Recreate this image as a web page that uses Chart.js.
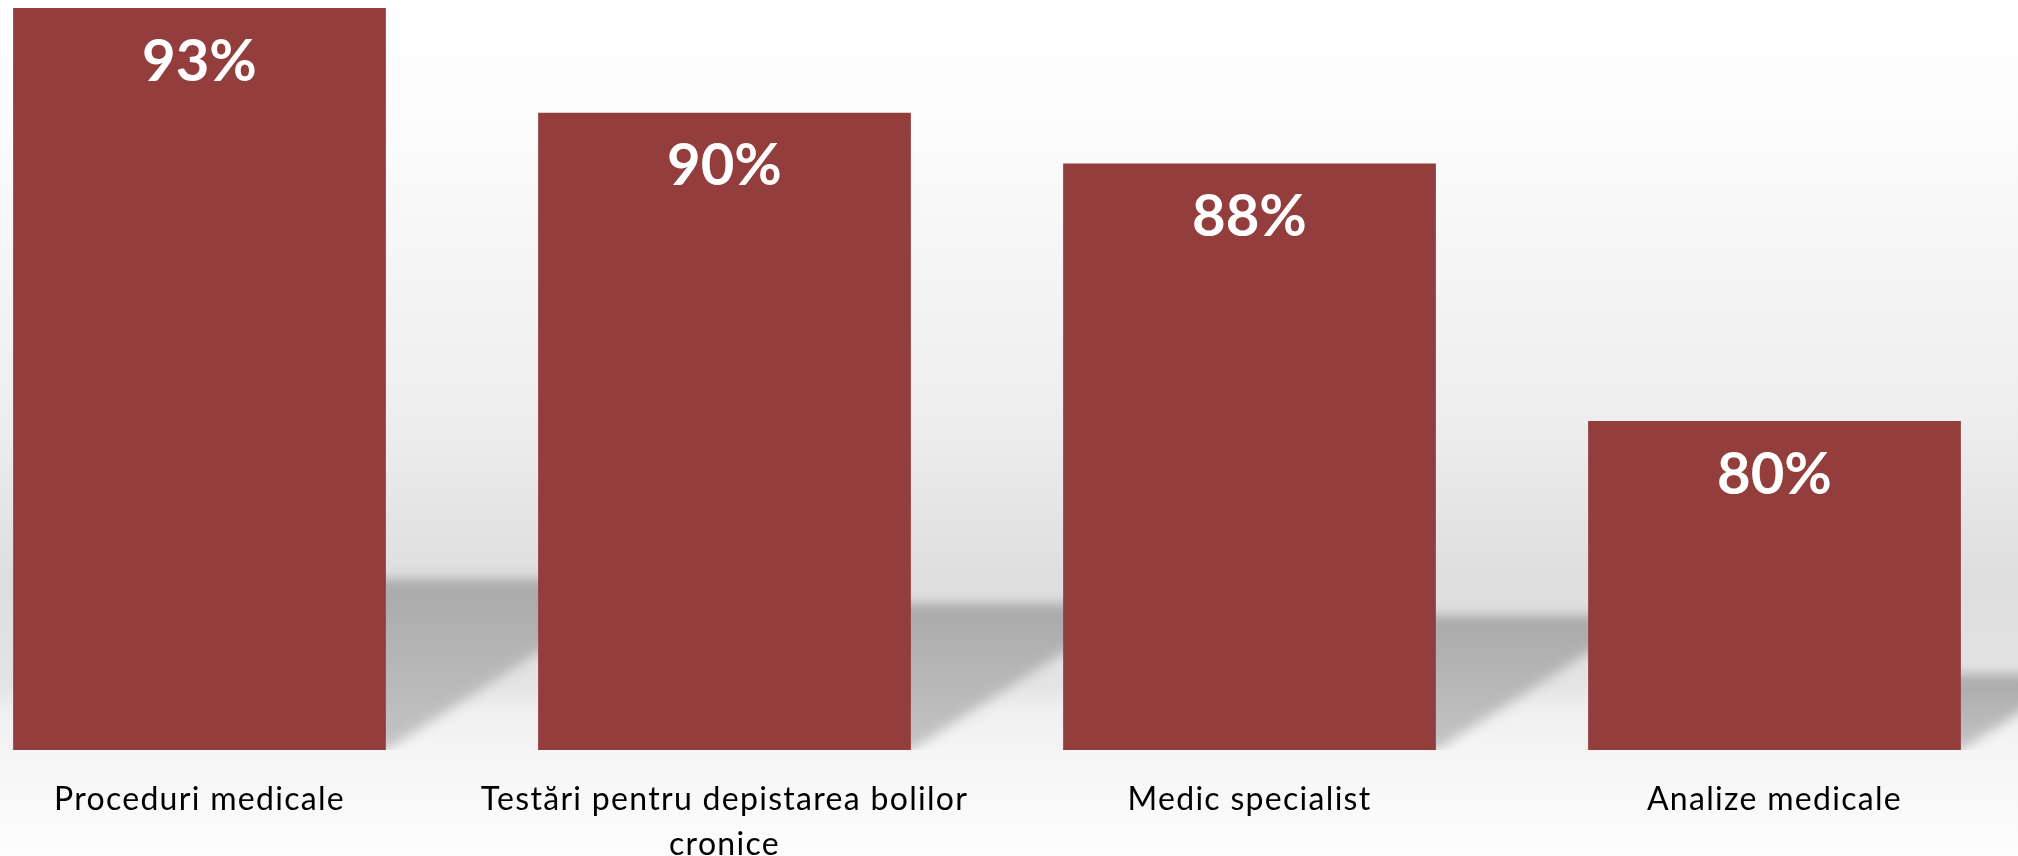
<!DOCTYPE html>
<html>
<head>
<meta charset="utf-8">
<script src="https://cdn.jsdelivr.net/npm/chart.js@4.4.1/dist/chart.umd.min.js"></script>
<style>
  html, body { margin: 0; padding: 0; overflow: hidden; background: #fff; }
  /* plot is a bit wider than the window, first category starts off-screen */
  #wrap { position: absolute; left: -63px; top: 0; width: 2100px; height: 856px; }
</style>
</head>
<body>
<div id="wrap"><canvas id="chart"></canvas></div>
<script>
const categories = [
  'Proceduri medicale',
  ['Testări pentru depistarea bolilor', 'cronice'],
  'Medic specialist',
  'Analize medicale',
];
const values = [93, 89.7, 88.1, 80];
const valueLabels = ['93%', '90%', '88%', '80%'];

const BAR = '#943d3d';

// skewed soft shadow cast back/right of a bar
function drawShadow(ctx, el, floor) {
  const left = el.x - el.width / 2;
  const right = el.x + el.width / 2;
  const base = Math.min(el.base, floor); // axis doesn't start at 0, bars are clipped
  const h = base - el.y;
  const top = base - h * 0.23;
  const dx = h * 0.36;
  const g = ctx.createLinearGradient(0, top, 0, base);
  g.addColorStop(0, '#a9a9a9');
  g.addColorStop(1, '#c4c4c4');
  ctx.fillStyle = g;
  ctx.beginPath();
  ctx.moveTo(left, base);
  ctx.lineTo(right, base);
  ctx.lineTo(right + dx, top);
  ctx.lineTo(left + dx, top);
  ctx.closePath();
  ctx.fill();
}

// wall + floor gradient and bar shadows, behind everything
const background = {
  id: 'background',
  beforeDraw(chart) {
    const { ctx, width, height, chartArea } = chart;
    ctx.save();
    const g = ctx.createLinearGradient(0, 0, 0, height);
    g.addColorStop(0, '#ffffff');
    g.addColorStop(0.12, '#fdfdfd');
    g.addColorStop(0.5, '#ededed');
    g.addColorStop(0.68, '#dedede');
    g.addColorStop(0.8, '#e4e4e4');
    g.addColorStop(0.83, '#efefef');
    g.addColorStop(0.876, '#f5f5f5');
    g.addColorStop(1, '#fdfdfd');
    ctx.fillStyle = g;
    ctx.fillRect(0, 0, width, height);
    ctx.beginPath();
    ctx.rect(0, 0, width, chartArea.bottom);
    ctx.clip();
    ctx.filter = 'blur(6px)';
    chart.getDatasetMeta(0).data.forEach(el => drawShadow(ctx, el, chartArea.bottom));
    ctx.restore();
    ctx.letterSpacing = '1.3px'; // wider spacing for the category labels
  },
};

// white percentage inside the top of each bar
const valueText = {
  id: 'valueText',
  afterDatasetsDraw(chart) {
    const { ctx } = chart;
    ctx.save();
    ctx.letterSpacing = '0px';
    ctx.font = 'bold 58px Lato';
    ctx.fillStyle = '#ffffff';
    ctx.textAlign = 'center';
    ctx.textBaseline = 'middle';
    chart.getDatasetMeta(0).data.forEach((el, i) => {
      ctx.fillText(valueLabels[i], el.x, el.y + 54);
    });
    ctx.restore();
  },
};

new Chart(document.getElementById('chart'), {
  type: 'bar',
  data: {
    labels: categories,
    datasets: [{
      data: values,
      backgroundColor: BAR,
      borderWidth: 0,
      categoryPercentage: 1,
      barPercentage: 0.71,
    }],
  },
  options: {
    responsive: true,
    maintainAspectRatio: false,
    animation: false,
    layout: { padding: 0 },
    plugins: { legend: { display: false }, tooltip: { enabled: false } },
    scales: {
      x: {
        grid: { display: false },
        border: { display: false },
        ticks: {
          color: '#000000',
          padding: 19,
          maxRotation: 0,
          autoSkip: false,
          font: { family: 'Lato', size: 32, lineHeight: 1.42 },
        },
        afterFit(scale) { scale.height = 106; },
      },
      y: {
        display: false,
        min: 69.64,
        max: 93.25,
      },
    },
  },
  plugins: [background, valueText],
});
</script>
</body>
</html>
